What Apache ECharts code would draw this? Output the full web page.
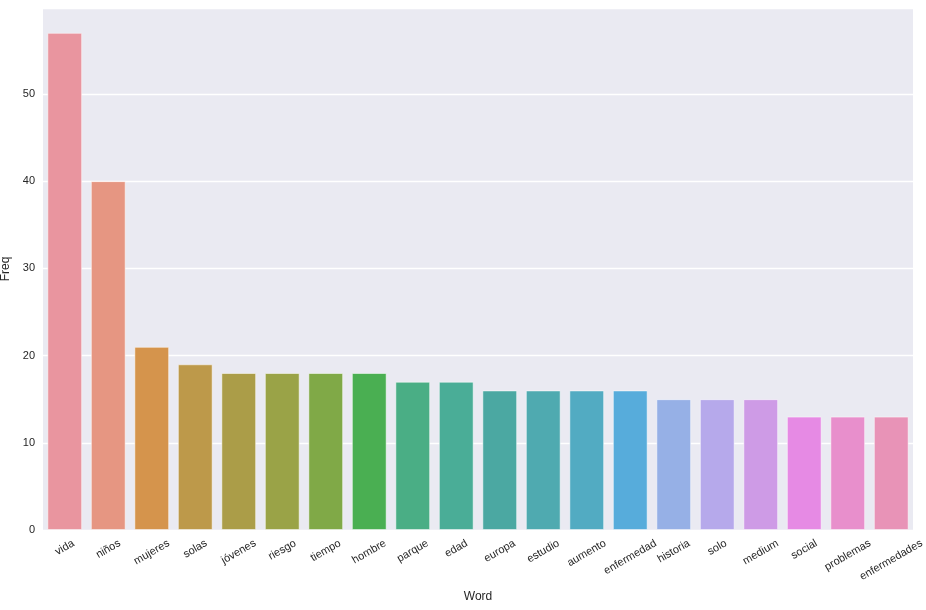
<!DOCTYPE html>
<html>
<head>
<meta charset="utf-8">
<script src="https://cdn.jsdelivr.net/npm/echarts@6/dist/echarts.min.js"></script>
<style>
  html, body { margin: 0; padding: 0; background: #fff; }
  #chart { width: 926px; height: 610px; }
</style>
</head>
<body>
<div id="chart"></div>
<script>
  // palabras y frecuencias
  const words = ['vida', 'niños', 'mujeres', 'solas', 'jóvenes', 'riesgo', 'tiempo', 'hombre', 'parque', 'edad',
    'europa', 'estudio', 'aumento', 'enfermedad', 'historia', 'solo', 'medium', 'social', 'problemas', 'enfermedades']
  const freq = [57, 40, 21, 19, 18, 18, 18, 18, 17, 17, 16, 16, 16, 16, 15, 15, 15, 13, 13, 13]
  const palette = ['#e9959f', '#e69682', '#d5944c', '#bd994a', '#ab9d48', '#9aa347', '#80a947', '#4aaf52',
    '#4aae85', '#4aad97', '#4ba8a2', '#4faab0', '#52abc2', '#57acdb', '#96b0e6', '#b6a9eb', '#ce9be6',
    '#e68ae4', '#e88fcc', '#e893b7']

  const FONT = 'Liberation Sans'
  const txt = '#262626'

  // etiquetas giradas centradas bajo la marca (como matplotlib ha=center, rotation=30)
  const ctx = document.createElement('canvas').getContext('2d')
  ctx.font = '11px "' + FONT + '"'
  const s30 = 0.5, c30 = Math.cos(Math.PI / 6)
  const xData = words.map(w => {
    const L = ctx.measureText(w).width
    const d = 7 + (L * s30 + 12.6 * c30) / 2
    return {
      value: w,
      textStyle: { align: 'center', verticalAlign: 'top', lineHeight: 2 * c30 * d, padding: [0, d, 0, 0] }
    }
  })

  const chart = echarts.init(document.getElementById('chart'))
  const option = {
    animation: false,
    grid: {
      left: 43,
      right: 13,
      top: 8,
      bottom: 80,
      outerBoundsMode: 'none',
      containLabel: false,
      backgroundColor: '#eaeaf2',
      show: true,
      borderWidth: 0
    },
    xAxis: {
      type: 'category',
      data: xData,
      name: 'Word',
      nameLocation: 'middle',
      nameGap: 61,
      nameMoveOverlap: false,
      nameTextStyle: { color: txt, fontSize: 12, fontFamily: FONT },
      axisLine: { show: false },
      axisTick: { show: false },
      axisLabel: {
        rotate: 30,
        interval: 0,
        color: txt,
        fontSize: 11,
        fontFamily: FONT,
        margin: 0
      },
      splitLine: { show: false }
    },
    yAxis: {
      type: 'value',
      min: 0,
      max: 59.85,
      interval: 10,
      name: 'Freq',
      nameLocation: 'middle',
      nameGap: 31,
      nameMoveOverlap: false,
      nameTextStyle: { color: txt, fontSize: 12, fontFamily: FONT },
      axisLine: { show: false },
      axisTick: { show: false },
      axisLabel: {
        color: txt,
        fontSize: 11,
        fontFamily: FONT,
        margin: 8,
        formatter: function (v) { return v % 10 === 0 ? String(v) : '' }
      },
      splitLine: { lineStyle: { color: '#ffffff', width: 1.3 } }
    },
    series: [
      {
        type: 'bar',
        barCategoryGap: '20%',
        data: freq.map((v, i) => ({
          value: v,
          itemStyle: { color: palette[i], borderColor: 'rgba(255,255,255,0.5)', borderWidth: 1 }
        }))
      }
    ]
  }
  chart.setOption(option)
</script>
</body>
</html>
